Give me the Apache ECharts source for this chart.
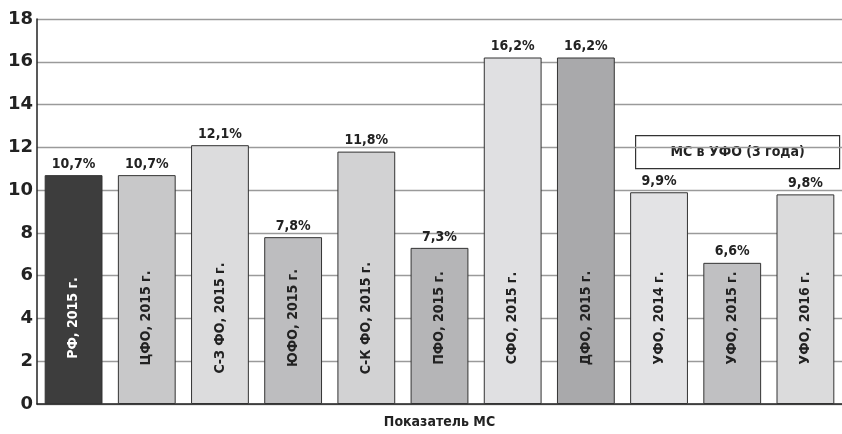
<!DOCTYPE html>
<html>
<head>
<meta charset="utf-8">
<script src="https://cdn.jsdelivr.net/npm/echarts@6/dist/echarts.min.js"></script>
<style>
  html, body { margin: 0; padding: 0; background: #fff; }
  #chart { width: 842px; height: 434px; }
</style>
</head>
<body>
<div id="chart"></div>
<script>
// Market share by federal district
const categories = [
  'РФ, 2015 г.', 'ЦФО, 2015 г.', 'С-З ФО, 2015 г.', 'ЮФО, 2015 г.',
  'С-К ФО, 2015 г.', 'ПФО, 2015 г.', 'СФО, 2015 г.', 'ДФО, 2015 г.',
  'УФО, 2014 г.', 'УФО, 2015 г.', 'УФО, 2016 г.'
];
const values = [10.7, 10.7, 12.1, 7.8, 11.8, 7.3, 16.2, 16.2, 9.9, 6.6, 9.8];
const barColors = [
  '#3d3d3d', '#c8c8c9', '#dcdcdd', '#bdbdbf', '#d2d2d3', '#b5b5b7',
  '#e0e0e2', '#a9a9ab', '#e3e3e5', '#c0c0c2', '#dbdbdc'
];
const yTicks = [0, 2, 4, 6, 8, 10, 12, 14, 16, 18];
const axisTitle = 'Показатель МС';
const boxTitle = 'МС в УФО (3 года)';

const condensed = '"Liberation Sans Narrow", "DejaVu Sans Condensed", "Roboto", sans-serif';

const chart = echarts.init(document.getElementById('chart'), null, { renderer: 'canvas' });

const barData = values.map((v, i) => ({
  value: v,
  itemStyle: { color: barColors[i] }
}));

chart.setOption({
  animation: false,
  grid: { left: 37, top: 19, width: 811, height: 390, containLabel: false },
  xAxis: {
    type: 'category',
    data: categories,
    name: axisTitle,
    nameLocation: 'middle',
    nameGap: 11,
    nameTextStyle: { fontFamily: condensed, fontWeight: 'bold', fontSize: 14, color: '#222' },
    axisLine: { lineStyle: { color: '#222', width: 1.5 } },
    axisTick: { show: false },
    axisLabel: { show: false }
  },
  yAxis: {
    type: 'value',
    min: yTicks[0],
    max: yTicks[yTicks.length - 1],
    interval: 2,
    axisLine: { show: true, lineStyle: { color: '#222', width: 1.5 } },
    axisTick: { show: false },
    axisLabel: {
      margin: 4,
      fontFamily: '"DejaVu Sans", sans-serif',
      fontWeight: 'bold',
      fontSize: 18,
      color: '#222'
    },
    splitLine: { lineStyle: { color: '#9a9a9a', width: 1.3 } }
  },
  series: [
    {
      type: 'bar',
      data: barData,
      barCategoryGap: '21%',
      itemStyle: { borderColor: '#333', borderWidth: 1 },
      label: {
        show: true,
        position: 'top',
        distance: 4,
        fontFamily: condensed,
        fontWeight: 'bold',
        fontSize: 14,
        color: '#222',
        formatter: p => p.value.toFixed(1).replace('.', ',') + '%'
      }
    },
    {
      // category names written vertically across each bar
      type: 'bar',
      data: values.map((v, i) => ({
        value: v,
        label: { color: i === 0 ? '#fff' : '#222' }
      })),
      barGap: '-100%',
      barCategoryGap: '21%',
      itemStyle: { color: 'rgba(0,0,0,0)' },
      silent: true,
      z: 5,
      label: {
        show: true,
        position: 'insideBottom',
        distance: 86,
        rotate: 90,
        align: 'center',
        verticalAlign: 'middle',
        fontFamily: condensed,
        fontWeight: 'bold',
        fontSize: 14,
        formatter: p => categories[p.dataIndex]
      }
    }
  ],
  graphic: [
    {
      type: 'group',
      left: 635,
      top: 135,
      children: [
        {
          type: 'rect',
          shape: { x: 0, y: 0, width: 204, height: 33 },
          style: { fill: '#fff', stroke: '#333', lineWidth: 1.2 }
        },
        {
          type: 'text',
          x: 102,
          y: 17,
          style: {
            text: boxTitle,
            align: 'center',
            verticalAlign: 'middle',
            font: 'bold 14px ' + condensed,
            fill: '#222'
          }
        }
      ]
    }
  ]
});
</script>
</body>
</html>
